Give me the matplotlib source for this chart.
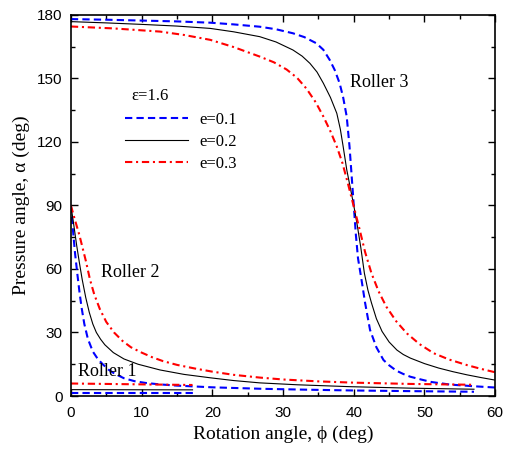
import numpy as np
import matplotlib.pyplot as plt

# Roller 3 (e = 0.1, 0.2, 0.3)
r3_phi_1 = [0, 5, 10, 15, 19.7, 23, 26.7, 29, 31.4, 33, 34.7, 35.7, 36.6, 37.3, 38.0, 38.5, 39.0, 39.4, 39.7, 40.0,
            40.3, 40.6, 41.1, 41.6, 42.3, 43.2, 44.2, 45, 46, 47, 48, 49.5, 51, 53.6, 57, 60]
r3_alp_1 = [178, 177.7, 177.3, 176.9, 176.3, 175.5, 174.4, 173.2, 171.3, 169.5, 166.6, 163.5, 158.7, 154, 147.7, 141, 132, 117.8, 104, 90,
            76, 65, 54.8, 44, 31.2, 23, 17, 14.5, 12, 10.4, 9.1, 7.8, 6.6, 5.4, 4.6, 4.0]
r3_phi_2 = [0, 5, 10, 15, 19.7, 23, 26.7, 29, 31.4, 32.7, 33.8, 34.8, 35.7, 36.7, 37.6, 38.1, 38.5, 39.0, 39.5, 40,
            40.5, 41, 41.5, 42, 42.5, 43.2, 44.0, 45.0, 46.1, 47, 48, 50, 52, 54, 56, 58, 60]
r3_alp_2 = [176.8, 176.2, 175.5, 174.7, 173.6, 172, 169.7, 167.2, 163.4, 160.5, 157.1, 153, 147.7, 141, 133.5, 126, 117.8, 107, 98.5, 90,
            80.5, 70, 58, 50, 44, 36.5, 30.5, 25.5, 21.7, 19.6, 17.9, 15.3, 13.2, 11.5, 10.0, 8.7, 7.5]
r3_phi_3 = [0, 6, 12.6, 16, 19.7, 23, 26.7, 28.7, 30.5, 32, 33.3, 34.6, 35.7, 36.7, 37.6, 38.4, 39.2, 40.0,
            40.8, 41.6, 42.5, 43.5, 44.6, 46, 47.5, 49.3, 51.3, 53.5, 56, 58, 60]
r3_alp_3 = [174.5, 173.6, 172.1, 170.5, 168.2, 164.8, 160.3, 157.6, 154.2, 150.2, 145.2, 138.8, 132, 125, 117.8, 110, 100, 89.5,
            79, 68, 58, 49.5, 42.2, 35.3, 29.6, 24.5, 20.2, 17.2, 14.6, 12.8, 11.2]

# Roller 2
r2_phi_1 = [0, 0.3, 0.6, 0.9, 1.2, 1.5, 1.9, 2.4, 3.1, 3.8, 4.5, 5.3, 6.2, 7.5, 9, 10.5, 12.5, 15, 20, 27, 33, 40, 48, 57]
r2_alp_1 = [90, 78, 67, 58, 49.5, 42, 34, 27, 21, 17.5, 15, 12.5, 10.5, 8.4, 7.0, 6.2, 5.5, 4.9, 4.1, 3.4, 3.0, 2.6, 2.3, 2.0]
r2_phi_2 = [0, 0.4, 0.8, 1.2, 1.6, 2.1, 2.6, 3.1, 3.6, 4.2, 4.8, 6, 7.5, 9.5, 12.6, 16, 19.7, 23, 26.7, 32, 39.5, 48, 57]
r2_alp_2 = [90, 81, 71.5, 63, 55, 46.5, 39.5, 34, 30, 26.8, 24.2, 20.5, 17.5, 15, 12.3, 10.2, 8.6, 7.3, 6.2, 5.3, 4.4, 3.7, 3.2]
r2_phi_3 = [0, 0.5, 1.2, 2.1, 2.7, 3.3, 4.1, 5.0, 6.1, 7.3, 8.5, 10, 11.5, 13, 15, 17.5, 20, 23, 26.7, 30, 35, 40, 48, 57]
r2_alp_3 = [90, 84, 76, 64, 55, 48, 41, 35, 30, 26, 23, 20.5, 18.3, 16.5, 14.7, 13, 11.5, 10, 8.7, 7.8, 6.9, 6.3, 5.7, 5.3]

# Roller 1
r1_phi = [0, 17.2]
r1_alp_1 = [1.5, 1.5]
r1_alp_2 = [3.0, 2.9]
r1_alp_3 = [5.9, 5.2]

labels = ['e=0.1', 'e=0.2', 'e=0.3']

plt.rcParams['font.family'] = ['Liberation Serif', 'DejaVu Serif']
fig = plt.figure(figsize=(5.1, 4.5), dpi=100)
ax = fig.add_axes([0.139, 0.12, 0.832, 0.847])

blue = dict(color='#0000ff', lw=1.5, ls=(0, (3.5, 2)))
black = dict(color='black', lw=0.8, ls='-')
red = dict(color='#ff0000', lw=1.5, ls=(0, (3.5, 1.8, 1, 1.8)))

l1, = ax.plot(r3_phi_1, r3_alp_1, **blue)
l2, = ax.plot(r3_phi_2, r3_alp_2, **black)
l3, = ax.plot(r3_phi_3, r3_alp_3, **red)
ax.plot(r2_phi_1, r2_alp_1, **blue)
ax.plot(r2_phi_2, r2_alp_2, **black)
ax.plot(r2_phi_3, r2_alp_3, **red)
ax.plot(r1_phi, r1_alp_1, **blue)
ax.plot(r1_phi, r1_alp_2, **black)
ax.plot(r1_phi, r1_alp_3, **red)

ax.text(39.5, 146, 'Roller 3', fontsize=13, va='baseline')
ax.text(4.25, 56.4, 'Roller 2', fontsize=13, va='baseline')
ax.text(1.0, 9.4, 'Roller 1', fontsize=13, va='baseline')
ax.text(8.6, 139.8, '\u03b5=1.6', fontsize=12, va='baseline')

ax.legend([l1, l2, l3], labels, loc='upper left', bbox_to_anchor=(0.127, 0.745),
          frameon=False, fontsize=12, handlelength=3.8, handletextpad=0.7,
          borderpad=0, borderaxespad=0, labelspacing=0.35)

ax.set_xlim(0, 60)
ax.set_ylim(0, 180)
ax.set_xticks(np.arange(0, 61, 10))
ax.set_xticks(np.arange(0, 61, 5), minor=True)
ax.set_yticks(np.arange(0, 181, 30))
ax.set_yticks(np.arange(0, 181, 15), minor=True)
ax.tick_params(which='both', direction='in', top=True, right=True, width=1.0)
ax.tick_params(which='major', length=5)
ax.tick_params(which='minor', length=3)
ax.tick_params(axis='y', pad=6)
ax.tick_params(axis='x', pad=7)
for t in ax.get_xticklabels() + ax.get_yticklabels():
    t.set_fontfamily('Liberation Sans')
    t.set_fontsize(11)
for s in ax.spines.values():
    s.set_linewidth(1.2)

ax.set_xlabel('Rotation angle, \u03d5 (deg)', fontsize=14, labelpad=4)
ax.set_ylabel('Pressure angle, \u03b1 (deg)', fontsize=14, labelpad=5)

fig.savefig('out.png', dpi=100)
